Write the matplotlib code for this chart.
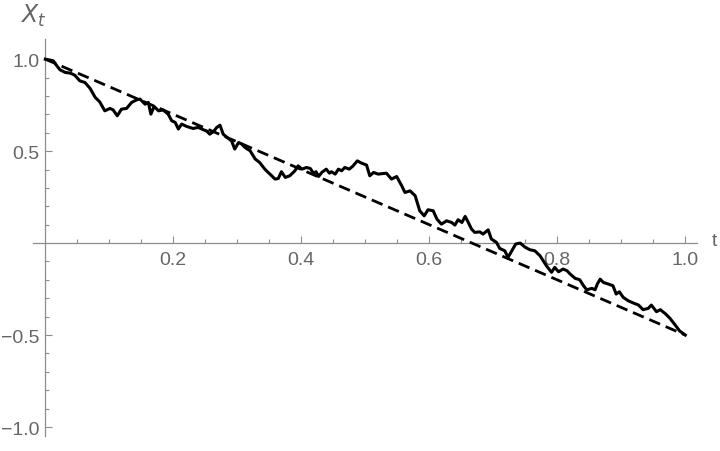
import matplotlib
matplotlib.use('Agg')
import matplotlib.pyplot as plt
from matplotlib.ticker import FixedLocator

# sample path (t, X_t)
t_vals = [0.000, 0.0125, 0.018, 0.023, 0.031, 0.039, 0.046, 0.054, 0.062, 0.070,
          0.078, 0.085, 0.093, 0.101, 0.106, 0.1125, 0.119, 0.127, 0.135, 0.143,
          0.148, 0.156, 0.161, 0.165, 0.170, 0.177, 0.184, 0.192, 0.1975, 0.203,
          0.208, 0.213, 0.221, 0.231, 0.239, 0.247, 0.252, 0.257, 0.263, 0.268,
          0.273, 0.278, 0.286, 0.291, 0.296, 0.302, 0.307, 0.312, 0.320, 0.328,
          0.335, 0.343, 0.351, 0.359, 0.364, 0.369, 0.375, 0.382, 0.390, 0.395,
          0.401, 0.408, 0.414, 0.419, 0.423, 0.427, 0.432, 0.439, 0.444, 0.447,
          0.453, 0.458, 0.463, 0.468, 0.475, 0.481, 0.4875, 0.494, 0.502, 0.507,
          0.513, 0.520, 0.533, 0.541, 0.549, 0.557, 0.562, 0.570, 0.578, 0.585,
          0.592, 0.598, 0.606, 0.612, 0.619, 0.627, 0.635, 0.640, 0.645, 0.651,
          0.656, 0.661, 0.666, 0.671, 0.679, 0.684, 0.692, 0.697, 0.705, 0.710,
          0.718, 0.723, 0.729, 0.735, 0.742, 0.750, 0.757, 0.765, 0.773, 0.778,
          0.783, 0.791, 0.796, 0.802, 0.809, 0.815, 0.820, 0.828, 0.835, 0.841,
          0.846, 0.854, 0.859, 0.8625, 0.867, 0.872, 0.880, 0.887, 0.892, 0.897,
          0.903, 0.911, 0.919, 0.927, 0.934, 0.942, 0.947, 0.955, 0.961, 0.9695,
          0.976, 0.983, 0.991, 1.000]
x_vals = [1.000, 0.991, 0.964, 0.942, 0.928, 0.924, 0.913, 0.882, 0.873, 0.841,
          0.792, 0.768, 0.719, 0.732, 0.724, 0.692, 0.728, 0.732, 0.765, 0.779,
          0.783, 0.755, 0.765, 0.701, 0.743, 0.719, 0.724, 0.701, 0.665, 0.656,
          0.620, 0.647, 0.634, 0.623, 0.629, 0.616, 0.610, 0.592, 0.607, 0.629,
          0.641, 0.592, 0.569, 0.556, 0.511, 0.547, 0.538, 0.520, 0.502, 0.457,
          0.438, 0.402, 0.375, 0.348, 0.351, 0.388, 0.357, 0.366, 0.393, 0.420,
          0.402, 0.411, 0.406, 0.380, 0.388, 0.362, 0.384, 0.402, 0.380, 0.388,
          0.375, 0.402, 0.393, 0.411, 0.402, 0.420, 0.447, 0.435, 0.424, 0.366,
          0.384, 0.375, 0.380, 0.348, 0.362, 0.311, 0.275, 0.284, 0.257, 0.176,
          0.148, 0.181, 0.176, 0.130, 0.103, 0.121, 0.112, 0.098, 0.127, 0.112,
          0.145, 0.112, 0.076, 0.058, 0.061, 0.049, 0.072, 0.022, 0.004, -0.029,
          -0.042, -0.078, -0.042, -0.005, 0.000, -0.023, -0.036, -0.042, -0.069, -0.096,
          -0.123, -0.159, -0.132, -0.156, -0.141, -0.150, -0.168, -0.192, -0.199, -0.232,
          -0.254, -0.246, -0.254, -0.223, -0.196, -0.214, -0.223, -0.232, -0.277, -0.265,
          -0.295, -0.314, -0.326, -0.337, -0.362, -0.355, -0.337, -0.373, -0.362, -0.386,
          -0.409, -0.440, -0.477, -0.500]

# straight line between the endpoints
line_t = [0.0, 1.0]
line_x = [1.0, -0.5]

xticks = [0.2, 0.4, 0.6, 0.8, 1.0]
yticks = [-1.0, -0.5, 0.5, 1.0]
xminor = [0.05, 0.1, 0.15, 0.25, 0.3, 0.35, 0.45, 0.5, 0.55, 0.65, 0.7, 0.75, 0.85, 0.9, 0.95]
yminor = [-0.9, -0.8, -0.7, -0.6, -0.4, -0.3, -0.2, -0.1, 0.1, 0.2, 0.3, 0.4, 0.6, 0.7, 0.8, 0.9]

axis_col = '#8c8c8c'
text_col = '#666666'

plt.rcParams['font.family'] = ['Liberation Sans', 'DejaVu Sans']

fig = plt.figure(figsize=(7.2, 4.52), dpi=100)
ax = fig.add_axes([0.046, 0.0327, 0.9218, 0.879])

ax.plot(line_t, line_x, color='black', lw=2.0, dashes=(4.2, 2.2), zorder=3)
ax.plot(t_vals, x_vals, color='black', lw=2.2, zorder=4)

ax.set_xlim(-0.019, 1.018)
ax.set_ylim(-1.05, 1.11)

for s in ['top', 'right']:
    ax.spines[s].set_visible(False)
ax.spines['left'].set_position(('data', 0))
ax.spines['bottom'].set_position(('data', 0))
for s in ['left', 'bottom']:
    ax.spines[s].set_color(axis_col)
    ax.spines[s].set_linewidth(0.9)

ax.xaxis.set_major_locator(FixedLocator(xticks))
ax.yaxis.set_major_locator(FixedLocator(yticks))
ax.xaxis.set_minor_locator(FixedLocator(xminor))
ax.yaxis.set_minor_locator(FixedLocator(yminor))
ax.set_xticklabels(['%.1f' % v for v in xticks])
ax.set_yticklabels([('%.1f' % v).replace('-', '\u2212') for v in yticks])

ax.tick_params(which='both', direction='in', color=axis_col, width=0.8,
               labelcolor=text_col, labelsize=14)
ax.tick_params(which='major', length=5)
ax.tick_params(which='minor', length=3)
ax.tick_params(axis='x', pad=6)
ax.tick_params(axis='y', pad=4)

fig.text(33 / 720, 1 - 16 / 452, r'$X_t$', color=text_col, fontsize=17,
         ha='center', va='center')
fig.text(714 / 720, 1 - 242 / 452, 't', color=text_col, fontsize=14,
         ha='center', va='center')

fig.savefig('out.png', dpi=100)
